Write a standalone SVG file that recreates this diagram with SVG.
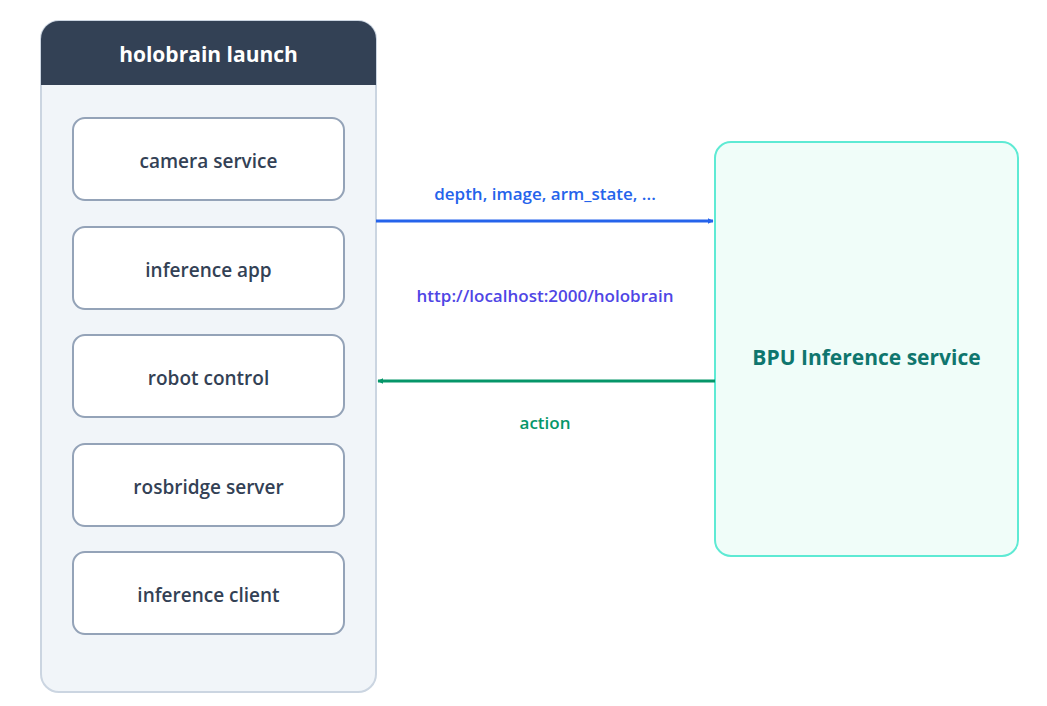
<svg xmlns="http://www.w3.org/2000/svg" width="1047" height="706" viewBox="0 0 1047 706">
<style>
text{font-family:"Open Sans","Noto Sans",sans-serif;text-anchor:middle;dominant-baseline:central}
.item rect{fill:#fff;stroke:#94a3b8;stroke-width:2}
.item text{font-size:19px;fill:#334155;font-weight:600}
.lbl{font-size:17px;font-weight:600}
</style>
<defs>
<marker id="ab" viewBox="0 0 10 10" refX="9" refY="5" markerWidth="6" markerHeight="6" markerUnits="userSpaceOnUse" orient="auto"><path d="M0,0L10,5L0,10z" fill="#2563eb"/></marker>
<marker id="ag" viewBox="0 0 10 10" refX="9" refY="5" markerWidth="6" markerHeight="6" markerUnits="userSpaceOnUse" orient="auto"><path d="M0,0L10,5L0,10z" fill="#059669"/></marker>
</defs>
<rect width="1047" height="706" fill="#fff"/>
<g id="launch">
<rect x="41" y="21" width="335" height="671" rx="18" fill="#f1f5f9" stroke="#cbd5e1" stroke-width="2"/>
<path d="M41,85V39A18,18 0 0 1 59,21H358A18,18 0 0 1 376,39V85z" fill="#334155"/>
<text x="208.500" y="54" font-size="21" font-weight="700" fill="#fff">holobrain launch</text>
</g>
<g id="camera" class="item"><rect x="73" y="118" width="271" height="82" rx="12"/><text x="208.500" y="161">camera service</text></g>
<g id="app" class="item"><rect x="73" y="227" width="271" height="82" rx="12"/><text x="208.500" y="270">inference app</text></g>
<g id="robot" class="item"><rect x="73" y="335" width="271" height="82" rx="12"/><text x="208.500" y="378">robot control</text></g>
<g id="rosbridge" class="item"><rect x="73" y="444" width="271" height="82" rx="12"/><text x="208.500" y="487">rosbridge server</text></g>
<g id="client" class="item"><rect x="73" y="552" width="271" height="82" rx="12"/><text x="208.500" y="595">inference client</text></g>
<g id="bpu">
<rect x="715" y="142" width="303" height="414" rx="16" fill="#f0fdf9" stroke="#5eead4" stroke-width="2"/>
<text x="866.500" y="357" font-size="21" font-weight="700" fill="#0f766e">BPU Inference service</text>
</g>
<g id="connectors">
<line x1="376" y1="221" x2="713" y2="221" stroke="#2563eb" stroke-width="3" marker-end="url(#ab)"/>
<line x1="715" y1="381" x2="378" y2="381" stroke="#059669" stroke-width="3" marker-end="url(#ag)"/>
<text class="lbl" x="545" y="193" fill="#2563eb">depth, image, arm_state, ...</text>
<text class="lbl" x="545" y="295" fill="#4f46e5">http://localhost:2000/holobrain</text>
<text class="lbl" x="545" y="422" fill="#059669">action</text>
</g>
</svg>
